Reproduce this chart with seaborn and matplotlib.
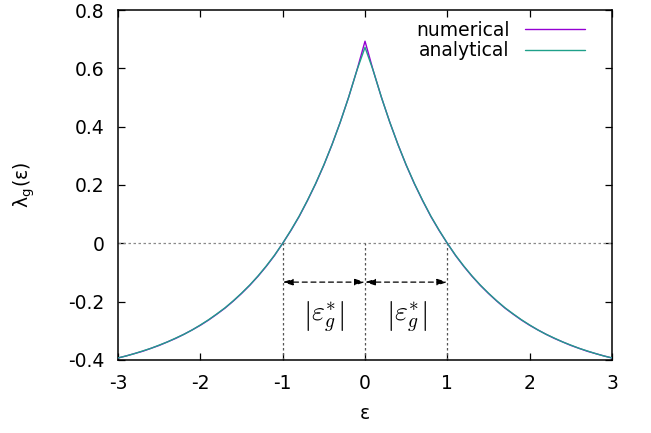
"""Growth rate lambda_g(eps): numerical vs analytical curve."""

import matplotlib

matplotlib.use("Agg")
import matplotlib.pyplot as plt
import pandas as pd
import seaborn as sns

# half-curve at |eps| = 0, 0.1, ..., 3 (curve is symmetric)
ABS_EPS = [0.0, 0.1, 0.2, 0.3, 0.4, 0.5, 0.6, 0.7, 0.8, 0.9, 1.0,
           1.1, 1.2, 1.3, 1.4, 1.5, 1.6, 1.7, 1.8, 1.9, 2.0,
           2.1, 2.2, 2.3, 2.4, 2.5, 2.6, 2.7, 2.8, 2.9, 3.0]
NUMERICAL = [0.693, 0.592, 0.500, 0.416, 0.339, 0.268, 0.204, 0.146, 0.092, 0.044, 0.000,
             -0.042, -0.079, -0.113, -0.144, -0.172, -0.198, -0.222, -0.243, -0.263, -0.281,
             -0.297, -0.312, -0.326, -0.338, -0.350, -0.360, -0.370, -0.378, -0.386, -0.393]
ANALYTICAL = [0.672, 0.592, 0.500, 0.416, 0.339, 0.269, 0.205, 0.147, 0.093, 0.045, 0.000,
              -0.041, -0.078, -0.112, -0.143, -0.171, -0.197, -0.221, -0.242, -0.262, -0.280,
              -0.297, -0.312, -0.325, -0.338, -0.349, -0.360, -0.369, -0.378, -0.386, -0.393]

CROSSINGS = [-1.0, 0.0, 1.0]   # where the guide lines drop from lambda = 0
ARROW_Y = -0.133
LABEL_Y = -0.255
GAP_LABEL = r"$\left|\varepsilon_g^{*}\right|$"

X_TICKS = [-3, -2, -1, 0, 1, 2, 3]
Y_TICKS = [-0.4, -0.2, 0, 0.2, 0.4, 0.6, 0.8]
Y_TICK_LABELS = ["-0.4", "-0.2", "0", "0.2", "0.4", "0.6", "0.8"]

PURPLE = "#9400d3"
TEAL = "#1fa08a"
GUIDE = "#8a8a8a"
FS = 13.5


def mirrored(values):
    # left half (eps from -3 to 0) followed by the right half
    return values[:0:-1] + values


def main():
    eps = [-e for e in ABS_EPS[:0:-1]] + ABS_EPS
    df = pd.DataFrame({
        "eps": eps + eps,
        "lam": mirrored(NUMERICAL) + mirrored(ANALYTICAL),
        "kind": ["numerical"] * len(eps) + ["analytical"] * len(eps),
    })

    sns.set_theme(style="ticks")
    plt.rcParams["font.family"] = ["DejaVu Sans"]
    plt.rcParams["mathtext.fontset"] = "cm"
    plt.rcParams["text.color"] = "black"
    plt.rcParams["axes.labelcolor"] = "black"

    fig = plt.figure(figsize=(6.51, 4.33), dpi=100)
    ax = fig.add_axes([0.1813, 0.1686, 0.7588, 0.8083])

    # dotted guides
    ax.axhline(0, color=GUIDE, lw=0.9, ls=(0, (2, 2)), zorder=1)
    ax.vlines(CROSSINGS, -0.4, 0, color="#555555", lw=0.9, ls=(0, (2, 2)), zorder=1)

    sns.lineplot(data=df, x="eps", y="lam", hue="kind",
                 palette={"numerical": PURPLE, "analytical": TEAL},
                 lw=1.0, ax=ax, zorder=3, sort=False, estimator=None)

    # double-headed dashed arrows between the crossings
    for a, b in zip(CROSSINGS[:-1], CROSSINGS[1:]):
        ax.annotate("", xy=(b, ARROW_Y), xytext=(a, ARROW_Y),
                    arrowprops=dict(arrowstyle="<|-|>,head_length=0.5,head_width=0.16",
                                    color="black", lw=0.9, ls=(0, (4, 3)),
                                    shrinkA=0, shrinkB=0))
        ax.text((a + b) / 2, LABEL_Y, GAP_LABEL, ha="center", va="center", fontsize=20)

    ax.set_xlim(-3, 3)
    ax.set_ylim(-0.4, 0.8)
    ax.set_xticks(X_TICKS)
    ax.set_xticklabels([str(t) for t in X_TICKS])
    ax.set_yticks(Y_TICKS)
    ax.set_yticklabels(Y_TICK_LABELS)
    ax.tick_params(direction="in", length=5, width=0.9, labelsize=FS,
                   top=True, right=True, colors="black")
    ax.tick_params(axis="x", pad=10)
    ax.tick_params(axis="y", pad=10)
    for s in ax.spines.values():
        s.set_linewidth(1.1)
        s.set_color("black")

    ax.set_xlabel("ε", fontsize=FS)
    ax.set_ylabel(r"λ$_\mathregular{g}$(ε)", fontsize=FS)
    ax.xaxis.set_label_coords(0.5, -0.126)
    ax.yaxis.set_label_coords(-0.164, 0.5)

    handles, labels = ax.get_legend_handles_labels()
    ax.legend(handles, labels, loc="upper right", bbox_to_anchor=(0.945, 0.97),
              frameon=False, markerfirst=False, fontsize=FS,
              handlelength=3.2, handletextpad=0.8, labelspacing=0.1,
              borderaxespad=0, borderpad=0)

    fig.savefig("out.png", dpi=100)
    plt.close(fig)


if __name__ == "__main__":
    main()
